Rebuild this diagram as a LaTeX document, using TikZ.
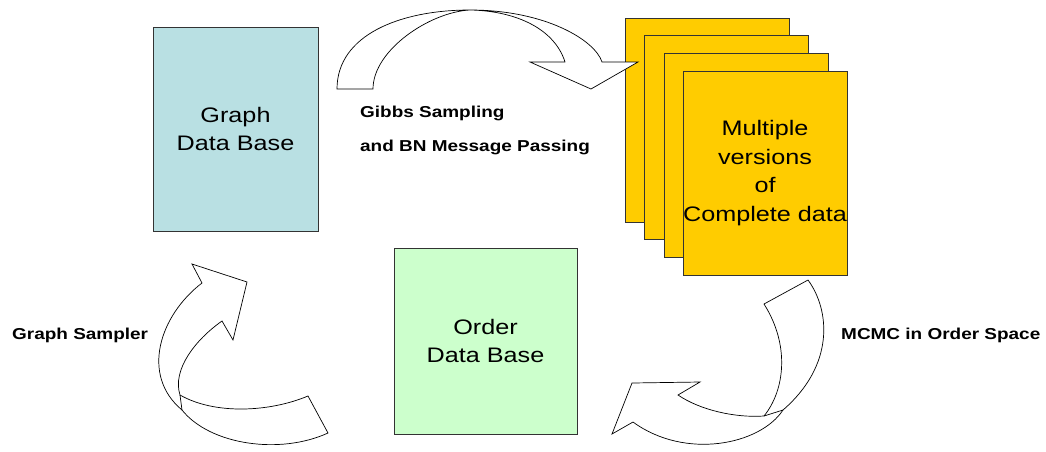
\documentclass[tikz,border=0pt]{standalone}
\usepackage{fontspec}
\setmainfont{Liberation Sans}[FakeStretch=1.2]
\usetikzlibrary{positioning}
\definecolor{graphblue}{RGB}{185,224,227}
\definecolor{ordergreen}{RGB}{204,255,204}
\definecolor{datayellow}{RGB}{255,204,0}
\tikzset{
	dbbox/.style={draw=black!80,line width=0.8pt,inner sep=0pt,align=center,font=\fontsize{21}{28.5}\selectfont},
	bigarrow/.style={draw=black,fill=white,line width=0.7pt,line join=miter},
	steplabel/.style={anchor=west,inner sep=0pt,align=left,font=\bfseries\fontsize{15.8}{34}\selectfont}
}

\begin{document}
\begin{tikzpicture}[x=1pt,y=-1pt]
	\useasboundingbox (0,0) rectangle (1046,451);
	% data bases
	\node[dbbox,fill=graphblue,minimum width=165pt,minimum height=204pt] (graphdb) at (235.5,129) {Graph\\Data Base};
	\node[dbbox,fill=ordergreen,minimum width=183pt,minimum height=186pt] (orderdb) at (485.5,341) {Order\\Data Base};
	% stack of completed data sets
	\foreach\i/\x/\y in {0/707.5/120, 1/726.5/137.5, 2/746/155}
		{\node[dbbox,fill=datayellow,minimum width=164pt,minimum height=204pt] (data\i) at (\x,\y) {};}
	\node[dbbox,fill=datayellow,minimum width=164pt,minimum height=204pt] (data3) at (765,173) {Multiple\\versions\\of\\Complete data};
	% curved block arrows
	\draw[bigarrow] (337,89) .. controls (337,35) and (400,10) .. (470,10) .. controls (545,10) and (595,40) .. (602,62)
		-- (638,62) -- (591,89) -- (530,62) -- (565,62) .. controls (555,30) and (518,11) .. (470,10)
		.. controls (430,12) and (373,50) .. (373,89) -- cycle;
	\coordinate (mcmcin) at (764,416);
	\coordinate (mcmcout) at (783,410);
	\draw[bigarrow] (764,304) -- (808,280) .. controls (830,310) and (835,365) .. (mcmcout)
		.. controls (760,445) and (685,460) .. (633,422) -- (612,434) -- (632,383) -- (700,382) -- (678,395)
		.. controls (700,410) and (735,418) .. (mcmcin) .. controls (785,390) and (790,345) .. (764,304) -- cycle;
	\draw[line width=0.7pt] (mcmcin) -- (mcmcout);
	\coordinate (sampin) at (180,395);
	\coordinate (sampout) at (182,410);
	\draw[bigarrow] (202,283) .. controls (160,315) and (140,375) .. (sampout)
		.. controls (210,445) and (280,455) .. (328,433) -- (308,396) .. controls (270,412) and (215,415) .. (sampin)
		.. controls (172,370) and (195,340) .. (222,321) -- (233,340) -- (247,282) -- (192,264) -- cycle;
	\draw[line width=0.7pt] (sampin) -- (sampout);
	% labels
	\node[steplabel] (gibbslabel) at (360,130) {Gibbs Sampling\\and BN Message Passing};
	\node[steplabel] (samplerlabel) at (12,335) {Graph Sampler};
	\node[steplabel] (mcmclabel) at (841,335) {MCMC in Order Space};
\end{tikzpicture}
\end{document}
